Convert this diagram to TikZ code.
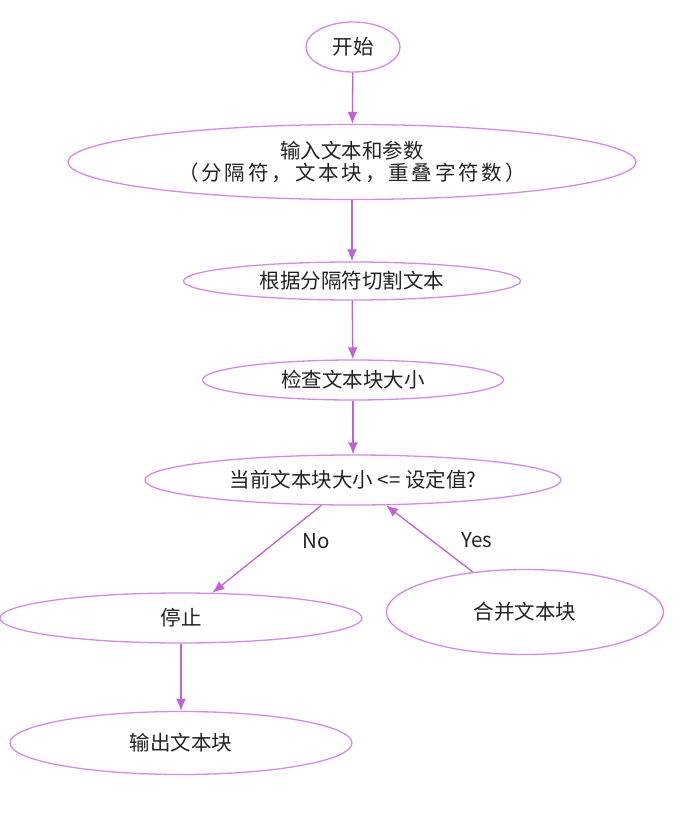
\documentclass[tikz,border=0pt]{standalone}
\usepackage{fontspec}
\setmainfont{Noto Sans CJK SC}
\usepackage{xcolor}
\usetikzlibrary{shapes.geometric,arrows.meta}
\definecolor{edgepurple}{HTML}{D48BE3}
\definecolor{arrowpurple}{HTML}{C063D4}
\definecolor{textgray}{HTML}{222222}

\tikzset{
    stepnode/.style={ellipse,draw=edgepurple,line width=1.3pt,inner sep=0pt,
        text=textgray,font=\fontsize{20.5}{22}\selectfont,align=center},
    flow/.style={draw=arrowpurple,line width=1.3pt,-{Latex[length=12pt,width=10pt]}},
    answer/.style={text=textgray,font=\fontsize{20.5}{22}\selectfont}
}

\begin{document}
\begin{tikzpicture}[x=1pt,y=-1pt]
    \useasboundingbox (0,0) rectangle (680,818);

    % Steps
    \node[stepnode,minimum width=94pt,minimum height=50pt] (start) at (353,47) {开始};
    \node[stepnode,minimum width=568pt,minimum height=75pt] (input) at (352,162)
        {输入文本和参数\\{\addfontfeature{LetterSpace=14}（分隔符，文本块，重叠字符数）}};
    \node[stepnode,minimum width=337pt,minimum height=38pt] (split) at (352,281) {根据分隔符切割文本};
    \node[stepnode,minimum width=301pt,minimum height=40pt] (check) at (353,380) {检查文本块大小};
    \node[stepnode,minimum width=416pt,minimum height=50pt] (cmp) at (353,480) {当前文本块大小 <= 设定值?};
    \node[stepnode,minimum width=362pt,minimum height=50pt] (stop) at (181,618) {停止};
    \node[stepnode,minimum width=277pt,minimum height=85pt] (merge) at (525,612) {合并文本块};
    \node[stepnode,minimum width=342pt,minimum height=63pt] (output) at (181,743) {输出文本块};

    % Connectors
    \draw[flow] (start) -- (input);
    \draw[flow] (input) -- (split);
    \draw[flow] (split) -- (check);
    \draw[flow] (check) -- (cmp);
    \draw[flow] (cmp) -- (stop);
    \draw[flow] (merge) -- (cmp);
    \draw[flow] (stop.south) -- (output.north);

    % Branch labels
    \node[answer] (no) at (316,541) {No};
    \node[answer] (yes) at (477,540) {Yes};
\end{tikzpicture}
\end{document}
